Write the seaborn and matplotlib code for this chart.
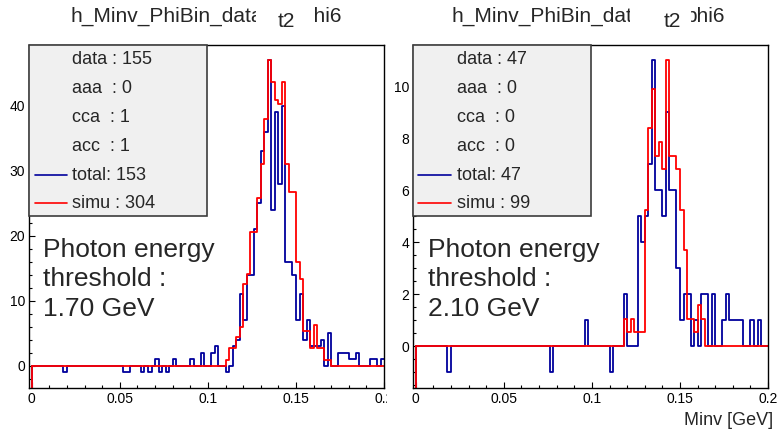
import numpy as np
import pandas as pd
import matplotlib
matplotlib.use("Agg")
import matplotlib.pyplot as plt
from matplotlib.patches import Rectangle
from matplotlib.lines import Line2D
from matplotlib.ticker import MultipleLocator, FixedLocator, FixedFormatter
import seaborn as sns

W, H = 779, 429

# ---------------- data ----------------
bin_lo, bin_hi, n_bins = 0.0, 0.2, 100

total_left = [
    0, 0, 0, 0, 0, 0, 0, 0, 0, -1,
    0, 0, 0, 0, 0, 0, 0, 0, 0, 0,
    0, 0, 0, 0, 0, 0, -1, -1, 0, 0,
    0, -1, 0, -1, 0, 1, -1, 0, -1, 0,
    1, 0, 0, 0, 0, 1, 0, 0, 2, 0,
    0, 2, 3, 0, 0, -1, 0, 3, 4, 11,
    7, 14, 14, 21, 25, 33, 36, 47, 24, 39,
    28, 40, 16, 16, 14, 7, 11, 4, 7, 3,
    3, 3, 4, 0, 5, 0, 0, 2, 2, 2,
    1, 1, 2, 0, 0, 0, 1, 1, 0, 1,
]
simu_left = [
    0, 0, 0, 0, 0, 0, 0, 0, 0, 0,
    0, 0, 0, 0, 0, 0, 0, 0, 0, 0,
    0, 0, 0, 0, 0, 0, 0, 0, 0, 0,
    0, 0, 0, 0, 0, 0, 0, 0, 0, 0,
    0, 0, 0, 0, 0, 0, 0, 0, 0, 0,
    0, 0, 0, 0, 0, 0.9, 2.7, 2.7, 4.4, 5.9,
    12.5, 14.1, 20.5, 20.5, 25.8, 31.1, 38.0, 47.0, 43.6, 40.9,
    40.2, 43.6, 31.1, 26.7, 26.7, 15.9, 13.3, 5.3, 5.3, 2.7,
    6.2, 2.7, 2.7, 0.9, 0.9, 0, 0, 0, 0, 0,
    0, 0, 0, 0, 0, 0, 0, 0, 0, 0,
]
total_right = [
    0, 0, 0, 0, 0, 0, 0, 0, 0, -1,
    0, 0, 0, 0, 0, 0, 0, 0, 0, 0,
    0, 0, 0, 0, 0, 0, 0, 0, 0, 0,
    0, 0, 0, 0, 0, 0, 0, 0, -1, 0,
    0, 0, 0, 0, 0, 0, 0, 0, 1, 0,
    0, 0, 0, 0, 0, -1, 0, 0, 0, 2,
    0, 0, 0, 5, 4, 5, 7, 11, 6, 6,
    5, 9, 6, 6, 3, 1, 2, 2, 0, 1,
    0, 2, 2, 0, 2, 0, 0, 1, 2, 1,
    1, 1, 1, 0, 0, 1, 0, 1, 0, 0,
]
simu_right = [
    0, 0, 0, 0, 0, 0, 0, 0, 0, 0,
    0, 0, 0, 0, 0, 0, 0, 0, 0, 0,
    0, 0, 0, 0, 0, 0, 0, 0, 0, 0,
    0, 0, 0, 0, 0, 0, 0, 0, 0, 0,
    0, 0, 0, 0, 0, 0, 0, 0, 0, 0,
    0, 0, 0, 0, 0, 0, 0, 0, 0, 1.05,
    0.55, 1.05, 0.55, 0.55, 0.55, 5.25, 8.4, 9.9, 7.3, 7.85,
    6.8, 11.0, 7.3, 7.3, 6.8, 5.25, 3.7, 1.05, 1.05, 0.55,
    1.6, 1.05, 0, 0, 0, 0, 0, 0, 0, 0,
    0, 0, 0, 0, 0, 0, 0, 0, 0, 0,
]

legend_left = ["data : 155", "aaa  : 0", "cca  : 1", "acc  : 1", "total: 153", "simu : 304"]
legend_right = ["data : 47", "aaa  : 0", "cca  : 0", "acc  : 0", "total: 47", "simu : 99"]
threshold_left = ["Photon energy", "threshold :", "1.70 GeV"]
threshold_right = ["Photon energy", "threshold :", "2.10 GeV"]
title_head = "h_Minv_PhiBin_data"
title_tail = "phi6"
title_overlay = "t2"
x_tick_values = [0, 0.05, 0.1, 0.15, 0.2]
x_tick_labels = ["0", "0.05", "0.1", "0.15", "0.2"]
x_label = "Minv [GeV]"

BLUE = "#00009c"
RED = "#ff0000"

# ---------------- style ----------------
sns.set_style("ticks")
plt.rcParams["font.family"] = ["Liberation Sans", "DejaVu Sans"]

fig = plt.figure(figsize=(W / 100, H / 100), dpi=100)


def fx(px):
    return px / W


def fy(py):
    return 1 - py / H


edges = np.linspace(bin_lo, bin_hi, n_bins + 1)
centers = (edges[:-1] + edges[1:]) / 2

FRAME_TOP, FRAME_BOT = 44.7, 387.7


def panel(left_px, total, simu, ylim, ymaj, ymin_, legend, thr,
          box_right, text_x, line_x0, line_x1, thr_x,
          title_x, title_right, tbox, t2x):
    ax = fig.add_axes([fx(left_px), fy(FRAME_BOT), 354.8 / W, (FRAME_BOT - FRAME_TOP) / H])
    df = pd.DataFrame({"Minv": centers, "total": total, "simu": simu})
    sns.histplot(data=df, x="Minv", weights="total", bins=n_bins, binrange=(bin_lo, bin_hi),
                 element="step", fill=False, color=BLUE, linewidth=1.3, ax=ax)
    ax.plot([edges[0], edges[0]], [ylim[0], total[0]], color=BLUE, lw=1.3)
    sns.histplot(data=df, x="Minv", weights="simu", bins=n_bins, binrange=(bin_lo, bin_hi),
                 element="step", fill=False, color=RED, linewidth=1.3, ax=ax)
    ax.plot([edges[0], edges[0]], [ylim[0], simu[0]], color=RED, lw=1.3)

    ax.set_xlim(-0.00135, 0.2)
    ax.set_ylim(*ylim)
    ax.set_xlabel("")
    ax.set_ylabel("")
    ax.xaxis.set_major_locator(FixedLocator(x_tick_values))
    ax.xaxis.set_major_formatter(FixedFormatter(x_tick_labels))
    ax.xaxis.set_minor_locator(MultipleLocator(0.01))
    ax.yaxis.set_major_locator(MultipleLocator(ymaj))
    ax.yaxis.set_minor_locator(MultipleLocator(ymin_))
    ax.tick_params(which="both", direction="in", top=False, right=False,
                   colors="black", width=0.8, labelsize=10, pad=3)
    ax.tick_params(which="major", length=4.2)
    ax.tick_params(which="minor", length=2.5)
    for s in ax.spines.values():
        s.set_visible(True)
        s.set_color("black")
        s.set_linewidth(1.0)
    ax.grid(False)

    # stats / legend box
    box = Rectangle((fx(left_px), fy(216.3)), fx(box_right - left_px), (216.3 - FRAME_TOP) / H,
                    transform=fig.transFigure, facecolor="#f0f0f0", edgecolor="#3c3c3c",
                    lw=1.2, zorder=5)
    fig.add_artist(box)
    for k, s in enumerate(legend):
        base = 64.3 + 28.8 * k
        fig.text(fx(text_x), fy(base), s, fontsize=13, ha="left", va="baseline", zorder=6)
    for k, c in ((4, BLUE), (5, RED)):
        yy = fy(64.3 + 28.8 * k - 5)
        fig.add_artist(Line2D([fx(line_x0), fx(line_x1)], [yy, yy], color=c, lw=1.2,
                              transform=fig.transFigure, zorder=6))

    # threshold text
    for s, b in zip(thr, (256.5, 286.0, 316.3)):
        fig.text(fx(thr_x), fy(b), s, fontsize=19, ha="left", va="baseline", zorder=6)

    # title with overlay
    fig.text(fx(title_x), fy(22), title_head, fontsize=15, ha="left", va="baseline")
    fig.text(fx(title_right), fy(22), title_tail, fontsize=15, ha="right", va="baseline")
    fig.add_artist(Rectangle((fx(tbox[0]), fy(36)), fx(tbox[1] - tbox[0]), 34 / H,
                             transform=fig.transFigure, facecolor="white",
                             edgecolor="none", zorder=7))
    fig.text(fx(t2x), fy(27), title_overlay, fontsize=15, ha="center", va="baseline", zorder=8)
    return ax


panel(29.3, total_left, simu_left, (-3.4, 49.4), 10, 2, legend_left, threshold_left,
      207.3, 72.3, 35, 66.7, 42.7, 70, 342, (256, 314), 286)
panel(413.3, total_right, simu_right, (-1.6, 11.6), 2, 0.5, legend_right, threshold_right,
      590.7, 456.7, 418.3, 450.7, 428.3, 451.7, 725, (630, 691), 672.5)

# the left pad ends here: its last tick label is cut at the pad border
fig.add_artist(Rectangle((fx(386.8), 0), fx(411 - 386.8), fy(388.5),
                         transform=fig.transFigure, facecolor="white",
                         edgecolor="none", zorder=10))

fig.text(fx(773), fy(425), x_label, fontsize=13, ha="right", va="baseline")

fig.savefig("out.png", dpi=100)
